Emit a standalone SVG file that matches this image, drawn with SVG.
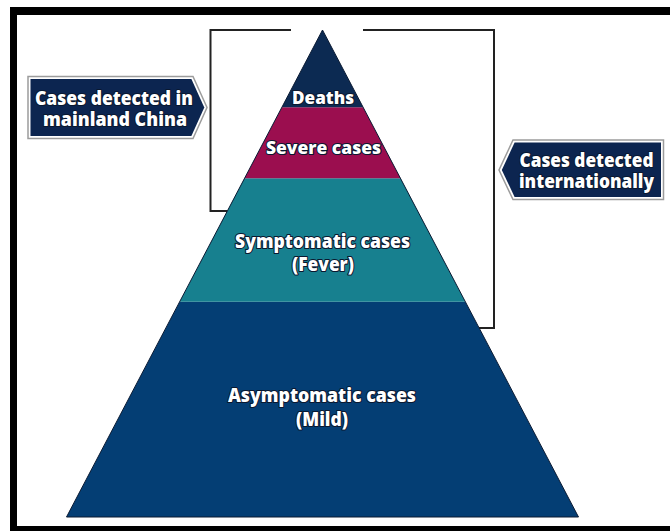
<svg xmlns="http://www.w3.org/2000/svg" width="670" height="531" viewBox="0 0 670 531">
  <defs>
    <style>
      .lbl { font-family: "Open Sans", "Noto Sans", "Liberation Sans", sans-serif; font-weight: 800; fill: #ffffff; text-anchor: middle; stroke: #0a1830; stroke-width: 2.2; stroke-linejoin: round; paint-order: stroke; }
      .tag-out { fill: #ffffff; stroke: #9c9c9c; stroke-width: 1.5; }
      .tag-in { fill: #0c2550; }
      .bracket { fill: none; stroke: #222222; stroke-width: 2; }
      .layer { stroke: none; }
    </style>
  </defs>
  <rect width="670" height="531" fill="#ffffff"/>

  <!-- black frame (top, left, bottom) -->
  <g id="frame" fill="#000000">
    <rect x="10" y="7" width="660" height="8"/>
    <rect x="10" y="7" width="7" height="524"/>
    <rect x="10" y="526" width="660" height="5"/>
  </g>

  <!-- brackets -->
  <g id="connectors">
    <path class="bracket" d="M291 30 H210.5 V211 H227"/>
    <path class="bracket" d="M363 30 H494 V328 H479"/>
  </g>

  <!-- pyramid layers -->
  <g id="asymptomatic">
    <polygon class="layer" fill="#043e74" points="179.7,301.7 465.3,301.7 578.5,517 66.5,517"/>
    <text class="lbl" x="322" y="402" font-size="20" textLength="188" lengthAdjust="spacingAndGlyphs">Asymptomatic cases</text>
    <text class="lbl" x="322" y="425.5" font-size="20" textLength="52" lengthAdjust="spacingAndGlyphs">(Mild)</text>
  </g>
  <g id="symptomatic">
    <polygon class="layer" fill="#17808f" points="244.5,178.3 400.5,178.3 465.3,301.7 179.7,301.7"/>
    <text class="lbl" x="322.5" y="248" font-size="19" textLength="175" lengthAdjust="spacingAndGlyphs">Symptomatic cases</text>
    <text class="lbl" x="323" y="270.5" font-size="19" textLength="62" lengthAdjust="spacingAndGlyphs">(Fever)</text>
  </g>
  <g id="severe">
    <polygon class="layer" fill="#9b0e4f" points="281.9,107.3 363.1,107.3 400.5,178.3 244.5,178.3"/>
    <text class="lbl" x="323.5" y="153.5" font-size="18" textLength="115" lengthAdjust="spacingAndGlyphs">Severe cases</text>
  </g>
  <g id="deaths">
    <polygon class="layer" fill="#0c2a52" points="322.5,30 363.1,107.3 281.9,107.3"/>
    <text class="lbl" x="323" y="103.5" font-size="18" textLength="62" lengthAdjust="spacingAndGlyphs">Deaths</text>
  </g>
  <polygon points="322.5,30 578.5,517 66.5,517" fill="none" stroke="#0a1a33" stroke-width="1"/>

  <!-- side tags -->
  <g id="tag-china">
    <polygon class="tag-out" points="28,76.5 193,76.5 207,107.5 193,138.5 28,138.5"/>
    <polygon class="tag-in" points="30.5,79 191.4,79 204.3,107.5 191.4,136 30.5,136"/>
    <text class="lbl" x="114" y="105" font-size="20" textLength="158" lengthAdjust="spacingAndGlyphs">Cases detected in</text>
    <text class="lbl" x="115" y="126" font-size="20" textLength="144" lengthAdjust="spacingAndGlyphs">mainland China</text>
  </g>
  <g id="tag-international">
    <polygon class="tag-out" points="663.5,140 513,140 499,170 513,199.5 663.5,199.5"/>
    <polygon class="tag-in" points="661,142.5 514.6,142.5 501.8,170 514.6,197 661,197"/>
    <text class="lbl" x="586.5" y="166.5" font-size="20" textLength="134" lengthAdjust="spacingAndGlyphs">Cases detected</text>
    <text class="lbl" x="586.5" y="187.5" font-size="20" textLength="135" lengthAdjust="spacingAndGlyphs">internationally</text>
  </g>
</svg>
